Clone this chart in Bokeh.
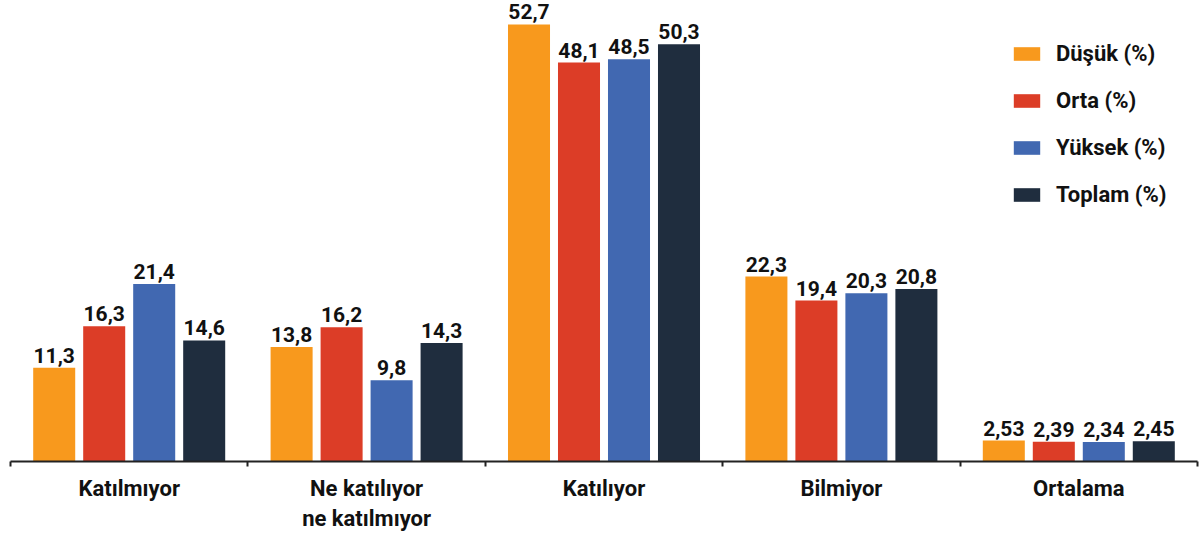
from bokeh.plotting import figure
from bokeh.models import (ColumnDataSource, Range1d, FixedTicker, LabelSet,
                          Legend, LegendItem)
from bokeh.core.properties import value
from bokeh.embed import file_html
from bokeh.resources import INLINE

categories = ["Katılmıyor", "Ne katılıyor\nne katılmıyor", "Katılıyor", "Bilmiyor", "Ortalama"]
series = ["Düşük (%)", "Orta (%)", "Yüksek (%)", "Toplam (%)"]
dusuk = [11.3, 13.8, 52.7, 22.3, 2.53]
orta = [16.3, 16.2, 48.1, 19.4, 2.39]
yuksek = [21.4, 9.8, 48.5, 20.3, 2.34]
toplam = [14.6, 14.3, 50.3, 20.8, 2.45]
values = [dusuk, orta, yuksek, toplam]
colors = ["#F8991D", "#DC3D27", "#4168B1", "#1F2D3E"]

FONT = "Roboto"
STEP = 0.2106
BAR_W = 0.177

p = figure(width=1199, height=533, output_backend="svg", toolbar_location=None,
           x_range=Range1d(0, len(categories)), y_range=Range1d(0, 55.59),
           min_border_left=10, min_border_right=2, min_border_top=0, min_border_bottom=71)
p.outline_line_color = None
p.grid.visible = False
p.yaxis.visible = False

renderers = []
for k, (name, vals, col) in enumerate(zip(series, values, colors)):
    xs = [i + 0.5 + (k - 1.5) * STEP for i in range(len(categories))]
    src = ColumnDataSource(dict(x=xs, top=vals,
                                lbl=[str(v).replace(".", ",") for v in vals]))
    r = p.vbar(x="x", top="top", width=BAR_W, source=src, fill_color=col, line_color=None)
    renderers.append(r)
    labels = LabelSet(x="x", y="top", text="lbl", source=src, text_align="center",
                      text_baseline="alphabetic", y_offset=5, text_font=value(FONT),
                      text_font_size="21px", text_font_style="bold", text_color="#111111")
    p.add_layout(labels)

ax = p.xaxis[0]
ax.ticker = FixedTicker(ticks=[i + 0.5 for i in range(len(categories))],
                        minor_ticks=list(range(len(categories) + 1)))
ax.major_label_overrides = {i + 0.5: c for i, c in enumerate(categories)}
ax.major_tick_line_color = None
ax.major_tick_in = 0
ax.major_tick_out = 0
ax.minor_tick_line_color = "#222222"
ax.minor_tick_line_width = 2
ax.minor_tick_in = 0
ax.minor_tick_out = 5
ax.axis_line_color = "#222222"
ax.axis_line_width = 2
ax.major_label_text_font = FONT
ax.major_label_text_font_size = "22px"
ax.major_label_text_font_style = "bold"
ax.major_label_text_color = "#111111"
ax.major_label_standoff = 9

legend = Legend(items=[LegendItem(label=s, renderers=[r]) for s, r in zip(series, renderers)],
                location=(1000, 254), orientation="vertical",
                border_line_color=None, background_fill_alpha=0,
                padding=0, margin=0, glyph_width=33, glyph_height=17,
                label_standoff=13, spacing=22, label_height=17,
                label_text_font=FONT, label_text_font_size="22px",
                label_text_font_style="bold", label_text_color="#111111")
p.add_layout(legend)

open("out.html", "w").write(file_html(p, INLINE))
